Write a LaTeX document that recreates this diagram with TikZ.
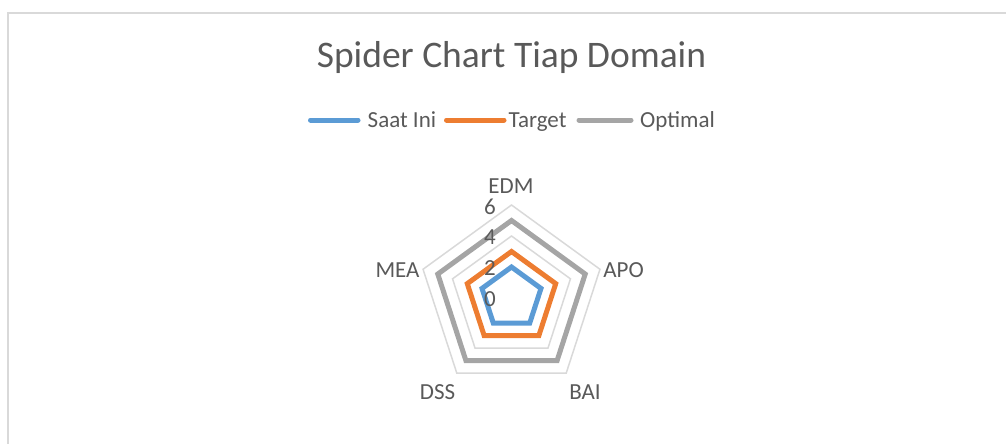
\documentclass[tikz,border=0pt]{standalone}
\usepackage{fontspec}
\setmainfont{Carlito}
\usepackage{xcolor}
\usepackage{tikz}
\usetikzlibrary{positioning}

\definecolor{txtgray}{HTML}{595959}
\definecolor{gridgray}{HTML}{D9D9D9}
\definecolor{saatblue}{HTML}{5B9BD5}
\definecolor{targetorange}{HTML}{ED7D31}
\definecolor{optimalgray}{HTML}{A5A5A5}

\tikzset{
  lbl/.style={text=txtgray, inner sep=0pt, font=\fontsize{23}{24}\selectfont},
  gridline/.style={draw=gridgray, line width=1.5pt},
  series/.style={line width=5pt, line join=miter},
  legline/.style={line width=5pt, line cap=round},
}

\begin{document}
\begin{tikzpicture}[x=1pt,y=-1pt]
    \useasboundingbox (0,0) rectangle (1006,444);
    \draw[gridgray, line width=1.5pt] (8,444) -- (8,13) -- (1006,13);
    \node[lbl, anchor=base, font=\fontsize{37.5}{40}\selectfont] (title) at (511.5,67) {Spider Chart Tiap Domain};

    % legend
    \node[lbl, anchor=base west] (saat) at (367.5,127.5) {Saat Ini};
    \node[lbl, anchor=base west] (target) at (508.5,127.5) {Target};
    \node[lbl, anchor=base west] (optimal) at (640,127.5) {Optimal};
    \draw[legline, saatblue] (310.5,120) -- (358,120);
    \draw[legline, targetorange] (446.5,120) -- (504,120);
    \draw[legline, optimalgray] (579,120) -- (631,120);

    % radar
    \begin{scope}[shift={(511.5,298)}, x=1pt, y=1pt]
      \foreach \v [evaluate=\v as \r using \v*15.5] in {2,4,6}
        \draw[gridline] (90:\r) -- (18:\r) -- (-54:\r) -- (-126:\r) -- (162:\r) -- cycle;
      \foreach \v/\c in {2/saatblue, 3/targetorange, 5/optimalgray}
        \draw[series, \c] (90:\v*15.5) -- (18:\v*15.5) -- (-54:\v*15.5)
          -- (-126:\v*15.5) -- (162:\v*15.5) -- cycle;
      \foreach \v in {0,2,4,6}
        \node[lbl, anchor=east] (tick\v) at (-15.5,\v*15.5-1.5) {\v};
      \node[lbl] (edm) at (-0.5,111.5) {EDM};
      \node[lbl] (apo) at (112,28) {APO};
      \node[lbl] (bai) at (73.5,-94.5) {BAI};
      \node[lbl] (dss) at (-74,-94.5) {DSS};
      \node[lbl] (mea) at (-114,28) {MEA};
    \end{scope}
\end{tikzpicture}
\end{document}
